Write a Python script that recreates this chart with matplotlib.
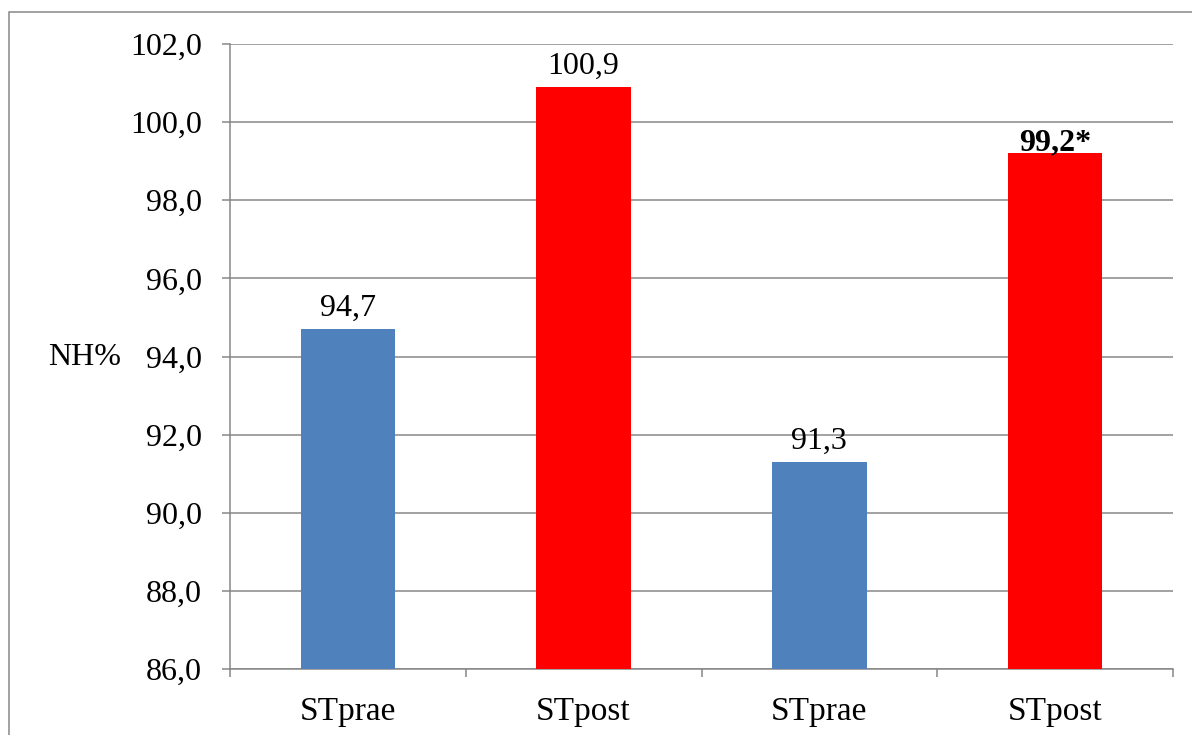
import matplotlib.pyplot as plt
from matplotlib.patches import Rectangle

plt.rcParams['font.family'] = ['Liberation Serif', 'DejaVu Serif']

categories = ['STprae', 'STpost', 'STprae', 'STpost']
values = [94.7, 100.9, 91.3, 99.2]
value_labels = ['94,7', '100,9', '91,3', '99,2*']
label_bold = [False, False, False, True]
bar_colors = ['#4f81bd', '#ff0000', '#4f81bd', '#ff0000']
yticks = [86, 88, 90, 92, 94, 96, 98, 100, 102]

W, H = 1192, 735
fig = plt.figure(figsize=(W / 100, H / 100), dpi=100)
ax = fig.add_axes([230 / W, 1 - 669 / H, (1173 - 230) / W, (669 - 44) / H])

gray = '#878787'
lw = 1.1

# outer chart frame (right/bottom edges run off the canvas)
fig.patches.append(Rectangle((9 / W, -0.05), 1.2, 1 - 12 / H + 0.05,
                             transform=fig.transFigure, fill=False,
                             edgecolor=gray, linewidth=lw))

x = list(range(len(categories)))
base = 86
ax.bar(x, [v - base for v in values], bottom=base, width=0.4,
       color=bar_colors, zorder=3)

for xi, v, lab, b in zip(x, values, value_labels, label_bold):
    off = 0.08 if b else 0.33
    ax.text(xi, v + off, lab, ha='center', va='baseline', fontsize=23,
            fontweight='bold' if b else 'normal', color='black', zorder=4)

ax.set_xlim(-0.5, len(categories) - 0.5)
ax.set_ylim(86, 102)
ax.set_yticks(yticks)
ax.yaxis.set_major_formatter(plt.FuncFormatter(lambda v, p: ('%.1f' % v).replace('.', ',')))
ax.grid(axis='y', color=gray, linewidth=lw, zorder=0)
ax.set_axisbelow(True)

# x ticks sit between categories
ax.set_xticks([i - 0.5 for i in range(len(categories) + 1)])
ax.set_xticklabels([])
ax.set_xticks(x, minor=True)
ax.set_xticklabels(categories, minor=True)
ax.tick_params(axis='x', which='minor', length=0, pad=20, labelsize=24)
ax.tick_params(axis='x', which='major', direction='out', length=6, width=lw, color=gray)
ax.tick_params(axis='y', direction='out', length=6, width=lw, color=gray, pad=14, labelsize=23)

for s in ['top', 'right']:
    ax.spines[s].set_visible(False)
for s in ['left', 'bottom']:
    ax.spines[s].set_color(gray)
    ax.spines[s].set_linewidth(lw)

fig.text(85 / W, 1 - 357 / H, 'NH%', ha='center', va='center', fontsize=23)

fig.savefig('out.png', dpi=100)
